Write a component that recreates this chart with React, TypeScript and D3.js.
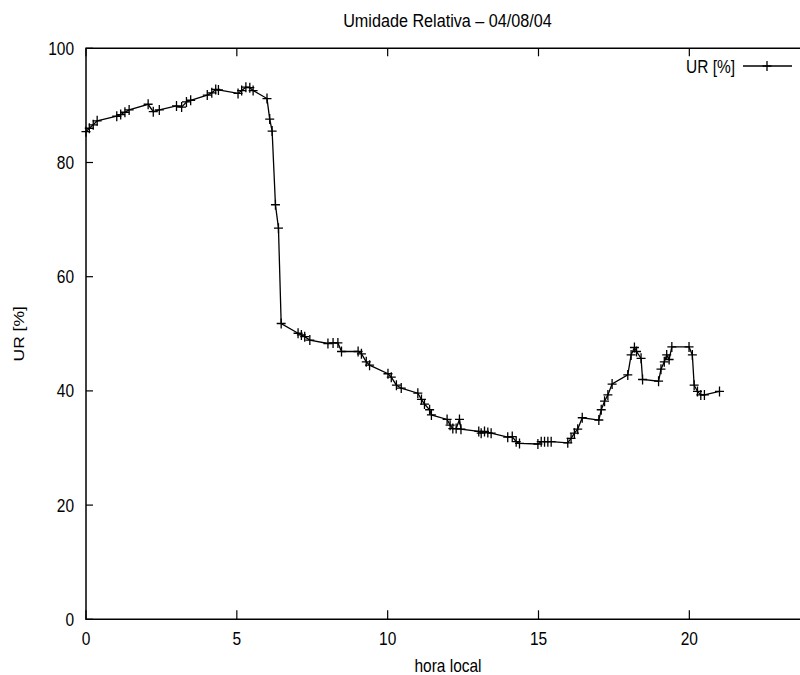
import React from 'react';
import * as d3 from 'd3';

// hora local (h) and umidade relativa (%)
const hours = [
  0.0, 0.11, 0.24, 0.37, 1.02, 1.15, 1.29, 1.43, 2.06, 2.23, 2.43,
  3.0, 3.17, 3.33, 3.47, 4.02, 4.17, 4.3, 4.39, 5.04, 5.16, 5.3, 5.43, 5.54,
  6.0, 6.09, 6.17, 6.28, 6.38, 6.47, 7.03, 7.14, 7.25, 7.42,
  8.02, 8.19, 8.35, 8.47, 9.02, 9.13, 9.29, 9.4, 10.01, 10.12, 10.29, 10.45,
  11.0, 11.12, 11.22, 11.39, 11.45, 11.97, 12.07, 12.16, 12.27, 12.38, 12.43,
  13.02, 13.1, 13.21, 13.32, 13.43, 13.98, 14.13, 14.26, 14.37,
  14.98, 15.09, 15.2, 15.31, 15.42, 15.97, 16.08, 16.19, 16.3, 16.45,
  17.0, 17.08, 17.19, 17.3, 17.44, 17.96, 18.07, 18.18, 18.25, 18.4, 18.45,
  18.98, 19.06, 19.17, 19.25, 19.33, 19.42, 19.99, 20.1, 20.16, 20.27, 20.38, 20.5,
  21.0,
];
const ur = [
  85.4, 86.0, 86.6, 87.3, 88.1, 88.4, 88.8, 89.2, 90.2, 88.9, 89.2,
  89.9, 89.7, 90.6, 90.9, 91.8, 92.2, 92.8, 92.7, 92.1, 92.6, 93.2, 93.1, 92.6,
  91.2, 87.6, 85.5, 72.6, 68.5, 51.8, 50.1, 49.8, 49.5, 48.9,
  48.3, 48.4, 48.4, 46.9, 46.9, 46.5, 45.1, 44.5, 43.0, 42.4, 41.0, 40.5,
  39.6, 38.5, 37.7, 36.7, 35.8, 35.0, 34.0, 33.4, 33.4, 35.0, 33.3,
  32.9, 32.6, 32.9, 32.7, 32.6, 31.9, 32.0, 31.1, 30.8,
  30.7, 31.1, 31.1, 31.1, 31.1, 30.9, 31.7, 32.6, 33.3, 35.3,
  34.9, 36.7, 38.2, 39.3, 41.2, 42.8, 46.3, 47.6, 46.9, 45.7, 42.0,
  41.7, 43.8, 45.1, 46.3, 45.5, 47.7, 47.7, 46.3, 41.0, 39.9, 39.3, 39.3,
  39.9,
];
const xTicks = [0, 5, 10, 15, 20];
const yTicks = [0, 20, 40, 60, 80, 100];

const FONT = '"Liberation Sans", Arial, sans-serif';
const STRETCH = 1.13; // text is a bit taller than normal in the original

function Label({ x, y, anchor = 'start', rotate = false, size = 15.5, children }: any) {
  const t = rotate
    ? `translate(${x},${y}) rotate(-90) scale(${STRETCH},1)`
    : `translate(${x},${y}) scale(1,${STRETCH})`;
  return (
    <text transform={t} textAnchor={anchor} fontFamily={FONT} fontSize={size} fill="#000">
      {children}
    </text>
  );
}

function Plus({ cx, cy }: { cx: number; cy: number }) {
  return <path d={`M${cx - 4.5},${cy}H${cx + 4.5}M${cx},${cy - 5}V${cy + 5}`} stroke="#000" strokeWidth={1.3} />;
}

export default function App() {
  const width = 800;
  const height = 675;
  const left = 86;
  const right = 810; // the right border falls just outside the picture
  const top = 48.3;
  const bottom = 619.3;

  const x = d3.scaleLinear().domain([0, 24]).range([left, right]);
  const y = d3.scaleLinear().domain([0, 100]).range([bottom, top]);

  const points: [number, number][] = hours.map((h, i) => [h, ur[i]]);
  const line = d3.line<[number, number]>().x((d) => x(d[0])).y((d) => y(d[1]));

  return (
    <svg width={width} height={height} style={{ position: 'absolute', left: 0, top: 0, background: '#fff' }}>
      {/* frame */}
      <path d={`M${left},${bottom}V${top}H${right}V${bottom}Z`} fill="none" stroke="#000" strokeWidth={1.5} />

      {/* y ticks */}
      {yTicks.map((t) => (
        <g key={'y' + t}>
          <line x1={left} x2={left + 7} y1={y(t)} y2={y(t)} stroke="#000" strokeWidth={1.2} />
          <Label x={left - 12} y={y(t) + 6.5} anchor="end">{t}</Label>
        </g>
      ))}

      {/* x ticks, bottom and top */}
      {xTicks.map((t) => (
        <g key={'x' + t}>
          <line x1={x(t)} x2={x(t)} y1={bottom} y2={bottom - 9} stroke="#000" strokeWidth={1.2} />
          <line x1={x(t)} x2={x(t)} y1={top} y2={top + 8} stroke="#000" strokeWidth={1.2} />
          <Label x={x(t)} y={645} anchor="middle">{t}</Label>
        </g>
      ))}

      {/* titles */}
      <Label x={447.5} y={26.5} anchor="middle" size={16.2}>Umidade Relativa – 04/08/04</Label>
      <Label x={(left + right) / 2} y={672} anchor="middle">hora local</Label>
      <Label x={23.5} y={(top + bottom) / 2} anchor="middle" rotate>UR [%]</Label>

      {/* series */}
      <path d={line(points) ?? ''} fill="none" stroke="#000" strokeWidth={1.3} />
      {points.map((d, i) => (
        <Plus key={i} cx={x(d[0])} cy={y(d[1])} />
      ))}

      {/* legend */}
      <Label x={735} y={72.5} anchor="end">UR [%]</Label>
      <line x1={743} x2={792} y1={66} y2={66} stroke="#000" strokeWidth={1.3} />
      <Plus cx={767} cy={66} />
    </svg>
  );
}
